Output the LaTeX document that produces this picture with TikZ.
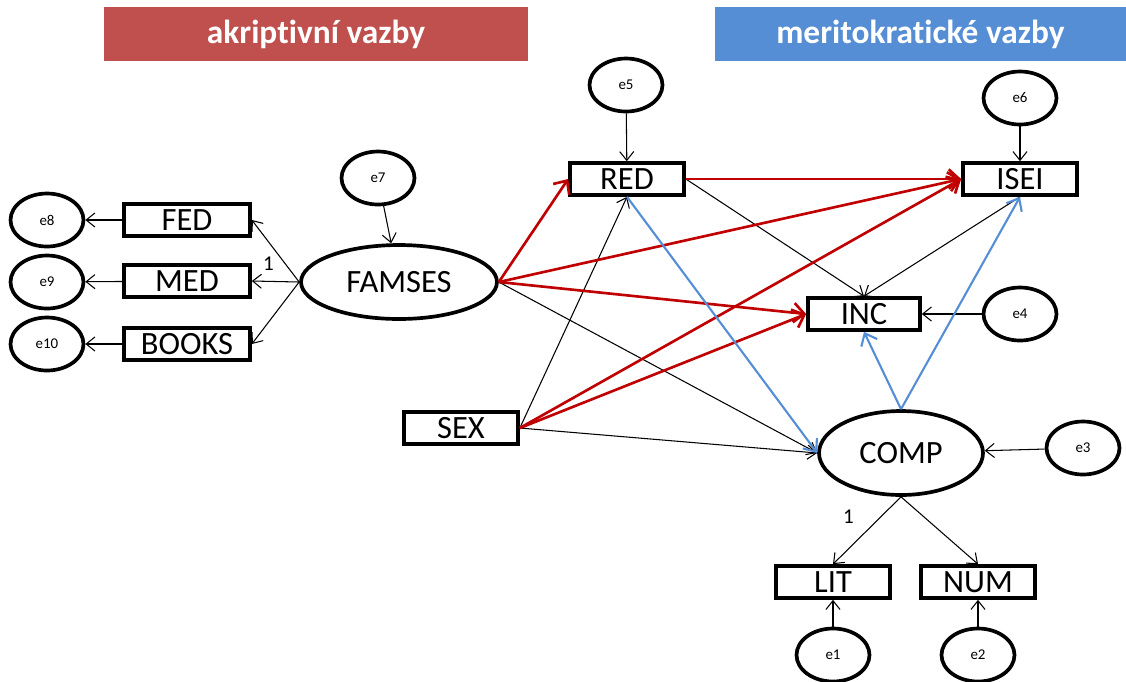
\documentclass[tikz,border=0pt]{standalone}
\usepackage{fontspec}
\setmainfont{Carlito}[Ligatures=CommonOff]
\usetikzlibrary{arrows.meta, shapes.geometric}

\definecolor{ascred}{RGB}{192,80,77}
\definecolor{merblue}{RGB}{85,142,213}
\definecolor{pathred}{RGB}{192,0,0}

\tikzset{
    obs/.style = {draw, line width=2.1pt, rectangle, inner sep=0pt,
        minimum width=2.28cm, minimum height=0.64cm,
        font=\fontsize{18.5}{20}\selectfont},
    lat/.style = {draw, line width=2.1pt, ellipse, inner sep=0pt,
        font=\fontsize{18.5}{20}\selectfont},
    err/.style = {draw, line width=2.1pt, ellipse, inner sep=0pt,
        minimum width=1.46cm, minimum height=1.06cm,
        font=\fontsize{8.5}{9}\selectfont},
    banner/.style = {rectangle, inner sep=0pt, minimum height=1.08cm,
        text=white, font=\fontsize{19}{21}\selectfont\bfseries},
    coef/.style = {inner sep=1pt, font=\fontsize{12}{13}\selectfont},
    blackpath/.style = {-{Straight Barb[length=5pt, width=8pt]}, line width=0.6pt},
    redpath/.style = {-{Straight Barb[length=6pt, width=11pt]}, line width=1.5pt, pathred},
    bluepath/.style = {-{Straight Barb[length=6pt, width=10pt]}, line width=1.2pt, merblue}
}

\begin{document}
\begin{tikzpicture}[
            x = 0.02cm, y = -0.02cm, % one unit = one pixel of the layout
            >= Straight Barb
        ]
        \useasboundingbox (0,0) rectangle (1126,681);

        % headings
        \node[banner, fill=ascred, minimum width=8.48cm] (asc) at (316,34) {akriptivní vazby};
        \node[banner, fill=merblue, minimum width=8.22cm] (mer) at (920.5,34) {meritokratické vazby};

        % family background
        \node[lat, minimum width=3.92cm, minimum height=1.48cm] (famses) at (399,282) {FAMSES};
        \node[obs, minimum width=2.52cm] (fed) at (187,220) {FED};
        \node[obs, minimum width=2.52cm] (med) at (187,281) {MED};
        \node[obs, minimum width=2.52cm] (books) at (187,344) {BOOKS};
        \node[err] (e8) at (47,220) {e8};
        \node[err] (e9) at (47,282) {e9};
        \node[err] (e10) at (47,344) {e10};
        \node[err] (e7) at (378,178) {e7};

        % education and outcomes
        \node[obs] (red) at (627,179) {RED};
        \node[obs] (isei) at (1020,179) {ISEI};
        \node[obs, minimum width=2.24cm] (inc) at (864,314) {INC};
        \node[obs] (sex) at (461,428) {SEX};
        \node[err] (e5) at (626,85) {e5};
        \node[err] (e6) at (1020,98) {e6};
        \node[err] (e4) at (1020,314) {e4};

        % competences
        \node[lat, minimum width=3.28cm, minimum height=1.68cm] (comp) at (901,453) {COMP};
        \node[obs] (lit) at (833,582) {LIT};
        \node[obs] (num) at (978,582) {NUM};
        \node[err] (e3) at (1083,448) {e3};
        \node[err] (e1) at (833,655) {e1};
        \node[err] (e2) at (978,655) {e2};

        % measurement part
        \path[blackpath] (fed) edge (e8);
        \path[blackpath] (med) edge (e9);
        \path[blackpath] (books) edge (e10);
        \path[blackpath] (famses.west) edge (fed.east);
        \path[blackpath] (famses.west) edge node[coef, pos=0.65, above=5pt] {1} (med.east);
        \path[blackpath] (famses.west) edge (books.east);
        \path[blackpath] (e7) edge (famses);
        \path[blackpath] (comp.south) edge node[coef, pos=0.3, left=14pt] {1} (lit.north);
        \path[blackpath] (comp.south) edge (num.north);
        \path[blackpath] (e1) edge (lit);
        \path[blackpath] (e2) edge (num);

        % residuals
        \path[blackpath] (e5) edge (red);
        \path[blackpath] (e6) edge (isei);
        \path[blackpath] (e4) edge (inc);
        \path[blackpath] (e3) edge (comp);

        % structural part, black
        \path[blackpath] (sex.east) edge (red.south);
        \path[blackpath] (famses.east) edge (comp.west);
        \path[blackpath] (sex.east) edge (comp.west);
        \path[blackpath] (red.east) edge (inc.north);
        \path[blackpath] (isei.south) edge (inc.north);

        % ascriptive paths
        \path[redpath] (famses.east) edge (red.west);
        \path[redpath] (famses.east) edge (isei.west);
        \path[redpath] (famses.east) edge (inc.west);
        \path[redpath] (sex.east) edge (isei.west);
        \path[redpath] (sex.east) edge (inc.west);
        \path[redpath] (red.east) edge (isei.west);

        % meritocratic paths
        \path[bluepath] (red.south) edge (comp.west);
        \path[bluepath] (comp.north) edge (inc.south);
        \path[bluepath] (comp.north) edge (isei.south);
\end{tikzpicture}
\end{document}
